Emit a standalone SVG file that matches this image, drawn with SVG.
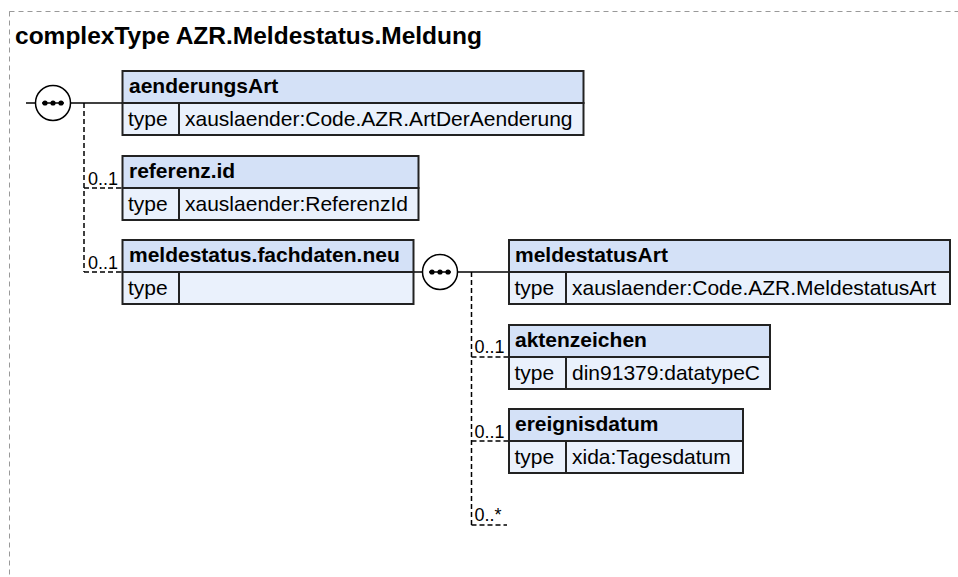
<svg xmlns="http://www.w3.org/2000/svg" width="958" height="577" viewBox="0 0 958 577">
<style>
.frame{fill:none;stroke:#999;stroke-width:1;stroke-dasharray:5,4}
.title{font-family:"Liberation Sans",Arial,sans-serif;font-weight:bold;font-size:24.5px;fill:#000}
.hdr{fill:#d4e1f7;stroke:#222;stroke-width:2}
.row{fill:#eaf1fc;stroke:#222;stroke-width:2}
.name{font-family:"Liberation Sans",Arial,sans-serif;font-weight:bold;font-size:21px;fill:#000}
.txt{font-family:"Liberation Sans",Arial,sans-serif;font-size:21px;fill:#000}
.lbl{font-family:"Liberation Sans",Arial,sans-serif;font-size:18px;fill:#000}
.solid{fill:none;stroke:#000;stroke-width:1.5}
.dash{fill:none;stroke:#000;stroke-width:1.5;stroke-dasharray:5,3}
.seq{fill:#fff;stroke:#000;stroke-width:1.5}
</style>
<defs>
<g id="seqsym">
<circle class="seq" cx="0" cy="0" r="17.5"/>
<line x1="-11" y1="0" x2="11" y2="0" stroke="#000" stroke-width="1.5"/>
<circle cx="-8" cy="0" r="2.6" fill="#000"/>
<circle cx="0" cy="0" r="2.6" fill="#000"/>
<circle cx="8" cy="0" r="2.6" fill="#000"/>
</g>
</defs>
<rect class="frame" x="9.5" y="11.5" width="980" height="620"/>
<text class="title" x="15" y="44">complexType AZR.Meldestatus.Meldung</text>

<g id="connectors">
<line class="solid" x1="26" y1="103" x2="35.5" y2="103"/>
<line class="solid" x1="70.5" y1="103" x2="122" y2="103"/>
<path class="dash" d="M84 103 V272"/>
<path class="dash" d="M84 188 H122"/>
<path class="dash" d="M84 272 H122"/>
<line class="solid" x1="414" y1="272" x2="422.5" y2="272"/>
<line class="solid" x1="457.5" y1="272" x2="509" y2="272"/>
<path class="dash" d="M471.5 272 V525"/>
<path class="dash" d="M471.5 357 H509"/>
<path class="dash" d="M471.5 441 H509"/>
<path class="dash" d="M471.5 525 H507"/>
<text class="lbl" x="88" y="185">0..1</text>
<text class="lbl" x="88" y="269">0..1</text>
<text class="lbl" x="474.5" y="353">0..1</text>
<text class="lbl" x="474.5" y="437.5">0..1</text>
<text class="lbl" x="474.5" y="521">0..*</text>
</g>

<g id="seq1"><use href="#seqsym" x="53" y="103"/></g>
<g id="seq2"><use href="#seqsym" x="440" y="272"/></g>

<g id="aenderungsArt">
<rect class="hdr" x="122.5" y="71" width="461" height="32"/>
<rect class="row" x="122.5" y="103" width="461" height="32"/>
<line x1="179" y1="103" x2="179" y2="135" stroke="#222" stroke-width="2"/>
<text class="name" x="129" y="93">aenderungsArt</text>
<text class="txt" x="128" y="126">type</text>
<text class="txt" x="185" y="126">xauslaender:Code.AZR.ArtDerAenderung</text>
</g>

<g id="referenz.id">
<rect class="hdr" x="122.5" y="156" width="296" height="32"/>
<rect class="row" x="122.5" y="188" width="296" height="32"/>
<line x1="179" y1="188" x2="179" y2="220" stroke="#222" stroke-width="2"/>
<text class="name" x="129" y="178">referenz.id</text>
<text class="txt" x="128" y="211">type</text>
<text class="txt" x="185" y="211">xauslaender:ReferenzId</text>
</g>

<g id="meldestatus.fachdaten.neu">
<rect class="hdr" x="122.5" y="240" width="291" height="32"/>
<rect class="row" x="122.5" y="272" width="291" height="32"/>
<line x1="179" y1="272" x2="179" y2="304" stroke="#222" stroke-width="2"/>
<text class="name" x="129" y="262">meldestatus.fachdaten.neu</text>
<text class="txt" x="128" y="295">type</text>
</g>

<g id="meldestatusArt">
<rect class="hdr" x="509" y="240" width="441" height="32"/>
<rect class="row" x="509" y="272" width="441" height="32"/>
<line x1="566" y1="272" x2="566" y2="304" stroke="#222" stroke-width="2"/>
<text class="name" x="515" y="262">meldestatusArt</text>
<text class="txt" x="514.5" y="295">type</text>
<text class="txt" x="572" y="295">xauslaender:Code.AZR.MeldestatusArt</text>
</g>

<g id="aktenzeichen">
<rect class="hdr" x="509" y="325" width="261" height="32"/>
<rect class="row" x="509" y="357" width="261" height="32"/>
<line x1="566" y1="357" x2="566" y2="389" stroke="#222" stroke-width="2"/>
<text class="name" x="515" y="347">aktenzeichen</text>
<text class="txt" x="514.5" y="380">type</text>
<text class="txt" x="572" y="380">din91379:datatypeC</text>
</g>

<g id="ereignisdatum">
<rect class="hdr" x="509" y="409" width="234" height="32"/>
<rect class="row" x="509" y="441" width="234" height="32"/>
<line x1="566" y1="441" x2="566" y2="473" stroke="#222" stroke-width="2"/>
<text class="name" x="515" y="431">ereignisdatum</text>
<text class="txt" x="514.5" y="464">type</text>
<text class="txt" x="572" y="464">xida:Tagesdatum</text>
</g>
</svg>
